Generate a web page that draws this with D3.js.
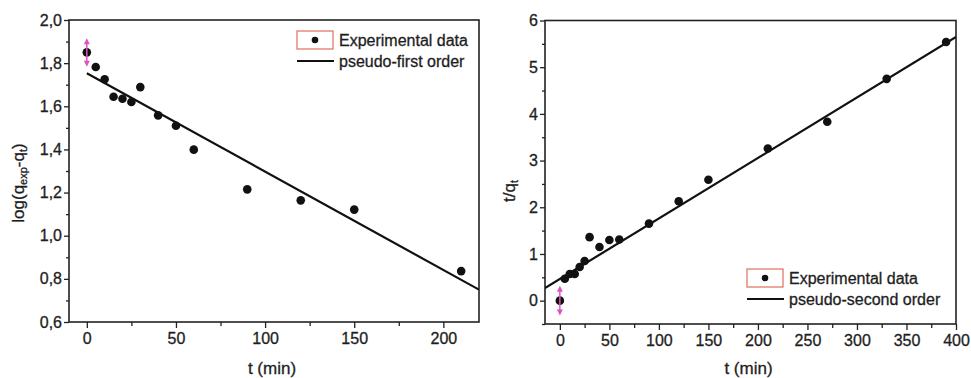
<!DOCTYPE html>
<html>
<head>
<meta charset="utf-8">
<script src="https://cdn.jsdelivr.net/npm/d3@7"></script>
<style>
  body { margin: 0; background: #fff; }
  text { font-family: "Liberation Sans", Arial, sans-serif; fill: #1e1e1e; stroke: #1e1e1e; stroke-width: 0.3px; }
</style>
</head>
<body>
<div id="chart"></div>
<script>
// left plot: pseudo-first order
var tFirst = [0, 5, 10, 15, 20, 25, 30, 40, 50, 60, 90, 120, 150, 210]
var logQ = [1.850, 1.782, 1.725, 1.644, 1.635, 1.620, 1.689, 1.558, 1.510, 1.399, 1.215, 1.164, 1.121, 0.836]
var fitFirstT = [0, 220]
var fitFirstY = [1.753, 0.750]
var errFirst = [1.915, 1.783]
var xTicksFirst = [0, 50, 100, 150, 200]
var xMinorFirst = [25, 75, 125, 175]
var yTicksFirst = [0.6, 0.8, 1.0, 1.2, 1.4, 1.6, 1.8, 2.0]
var yMinorFirst = [0.7, 0.9, 1.1, 1.3, 1.5, 1.7, 1.9]

// right plot: pseudo-second order
var tSecond = [0, 5, 10, 15, 20, 25, 30, 40, 50, 60, 90, 120, 150, 210, 270, 330, 390]
var tOverQ = [0, 0.47, 0.57, 0.57, 0.72, 0.85, 1.36, 1.15, 1.30, 1.31, 1.65, 2.13, 2.59, 3.26, 3.83, 4.75, 5.54]
var fitSecondT = [-15, 400]
var fitSecondY = [0.27, 5.65]
var errSecond = [0.32, -0.32]
var xTicksSecond = [0, 50, 100, 150, 200, 250, 300, 350, 400]
var xMinorSecond = [25, 75, 125, 175, 225, 275, 325, 375]
var yTicksSecond = [0, 1, 2, 3, 4, 5, 6]
var yMinorSecond = [-0.5, 0.5, 1.5, 2.5, 3.5, 4.5, 5.5]

var svg = d3.select("#chart").append("svg")
  .attr("width", 971)
  .attr("height", 378)

var comma = function(d){ return d3.format(".1f")(d).replace(".", ",") }

var drawPanel = function(opt){
  var x = d3.scaleLinear().domain(opt.xDomain).range([opt.left, opt.right])
  var y = d3.scaleLinear().domain(opt.yDomain).range([opt.bottom, opt.top])
  var g = svg.append("g")

  // minor ticks first, then the labelled ones
  g.append("g")
    .attr("transform", "translate(0," + opt.bottom + ")")
    .call(d3.axisBottom(x).tickValues(opt.xMinor).tickSize(4).tickFormat(""))
  g.append("g")
    .attr("transform", "translate(" + opt.left + ",0)")
    .call(d3.axisLeft(y).tickValues(opt.yMinor).tickSize(3).tickFormat(""))
  g.append("g")
    .attr("transform", "translate(0," + opt.bottom + ")")
    .call(d3.axisBottom(x).tickValues(opt.xTicks).tickSize(6).tickPadding(5))
  g.append("g")
    .attr("transform", "translate(" + opt.left + ",0)")
    .call(d3.axisLeft(y).tickValues(opt.yTicks).tickSize(5).tickPadding(2).tickFormat(opt.yFormat))
  g.selectAll(".domain").remove()
  g.selectAll(".tick line").attr("stroke", "#222").attr("stroke-width", 1.3)
  g.selectAll(".tick text").style("font-size", "16px").attr("fill", "#1e1e1e")

  // frame
  g.append("rect")
    .attr("x", opt.left).attr("y", opt.top)
    .attr("width", opt.right - opt.left).attr("height", opt.bottom - opt.top)
    .attr("fill", "none").attr("stroke", "#222").attr("stroke-width", 1.6)

  var clipId = "clip" + opt.id
  svg.append("clipPath").attr("id", clipId)
    .append("rect")
    .attr("x", opt.left).attr("y", opt.top)
    .attr("width", opt.right - opt.left).attr("height", opt.bottom - opt.top)

  // fit line
  g.append("path")
    .datum(d3.zip(opt.fitT, opt.fitY))
    .attr("clip-path", "url(#" + clipId + ")")
    .attr("fill", "none")
    .attr("stroke", "#111")
    .attr("stroke-width", 2.2)
    .attr("d", d3.line().x(function(d){ return x(d[0]) }).y(function(d){ return y(d[1]) }))

  // points
  g.selectAll("circle.pt")
    .data(d3.zip(opt.t, opt.v))
    .enter()
    .append("circle")
      .attr("class", "pt")
      .attr("cx", function(d){ return x(d[0]) })
      .attr("cy", function(d){ return y(d[1]) })
      .attr("r", 4.3)
      .attr("fill", "#111")

  // magenta double arrow on the first point
  var ex = x(opt.t[0])
  var y1 = y(opt.err[0]), y2 = y(opt.err[1])
  var pink = "#e052c0"
  g.append("line")
    .attr("x1", ex).attr("x2", ex)
    .attr("y1", y1 + 4).attr("y2", y2 - 4)
    .attr("stroke", pink).attr("stroke-width", 1.5)
  g.append("path")
    .attr("d", "M" + ex + "," + y1 + "l-3,6h6z")
    .attr("fill", pink)
  g.append("path")
    .attr("d", "M" + ex + "," + y2 + "l-3,-6h6z")
    .attr("fill", pink)

  // legend
  var lg = g.append("g").attr("transform", "translate(" + opt.legX + "," + opt.legY + ")")
  lg.append("rect")
    .attr("x", 0).attr("y", -9).attr("width", 36).attr("height", 18)
    .attr("fill", "none").attr("stroke", "#e07a68").attr("stroke-width", 1.3)
  lg.append("circle").attr("cx", 18).attr("cy", 0).attr("r", 3.3).attr("fill", "#111")
  lg.append("text").attr("x", 42).attr("y", 0).attr("dy", "0.35em")
    .style("font-size", "16px").text("Experimental data")
  lg.append("line")
    .attr("x1", 0).attr("x2", 37).attr("y1", 21).attr("y2", 21)
    .attr("stroke", "#111").attr("stroke-width", 2)
  lg.append("text").attr("x", 42).attr("y", 21).attr("dy", "0.35em")
    .style("font-size", "16px").text(opt.fitName)

  // x title
  g.append("text")
    .attr("x", (opt.left + opt.right) / 2 - 2)
    .attr("y", 374)
    .attr("text-anchor", "middle")
    .style("font-size", "17px")
    .text("t (min)")

  return g
}

var left = drawPanel({
  id: 1, left: 69, right: 479, top: 20, bottom: 322,
  xDomain: [-10, 220], yDomain: [0.6, 2.0],
  xTicks: xTicksFirst, xMinor: xMinorFirst, yTicks: yTicksFirst, yMinor: yMinorFirst,
  yFormat: comma,
  t: tFirst, v: logQ, fitT: fitFirstT, fitY: fitFirstY, err: errFirst,
  legX: 297, legY: 40, fitName: "pseudo-first order"
})

var right = drawPanel({
  id: 2, left: 545, right: 956, top: 20.5, bottom: 324,
  xDomain: [-15, 400], yDomain: [-0.5, 6],
  xTicks: xTicksSecond, xMinor: xMinorSecond, yTicks: yTicksSecond, yMinor: yMinorSecond,
  yFormat: d3.format("d"),
  t: tSecond, v: tOverQ, fitT: fitSecondT, fitY: fitSecondY, err: errSecond,
  legX: 747, legY: 278, fitName: "pseudo-second order"
})

// y titles with subscripts
var yt1 = svg.append("text")
  .attr("transform", "translate(24,183) rotate(-90)")
  .attr("text-anchor", "middle")
  .style("font-size", "17px")
yt1.append("tspan").text("log(q")
yt1.append("tspan").attr("baseline-shift", "-25%").style("font-size", "11px").text("exp")
yt1.append("tspan").text("-q")
yt1.append("tspan").attr("baseline-shift", "-25%").style("font-size", "11px").text("t")
yt1.append("tspan").text(")")

var yt2 = svg.append("text")
  .attr("transform", "translate(515,191) rotate(-90)")
  .attr("text-anchor", "middle")
  .style("font-size", "17px")
yt2.append("tspan").text("t/q")
yt2.append("tspan").attr("baseline-shift", "-25%").style("font-size", "11px").text("t")
</script>
</body>
</html>
